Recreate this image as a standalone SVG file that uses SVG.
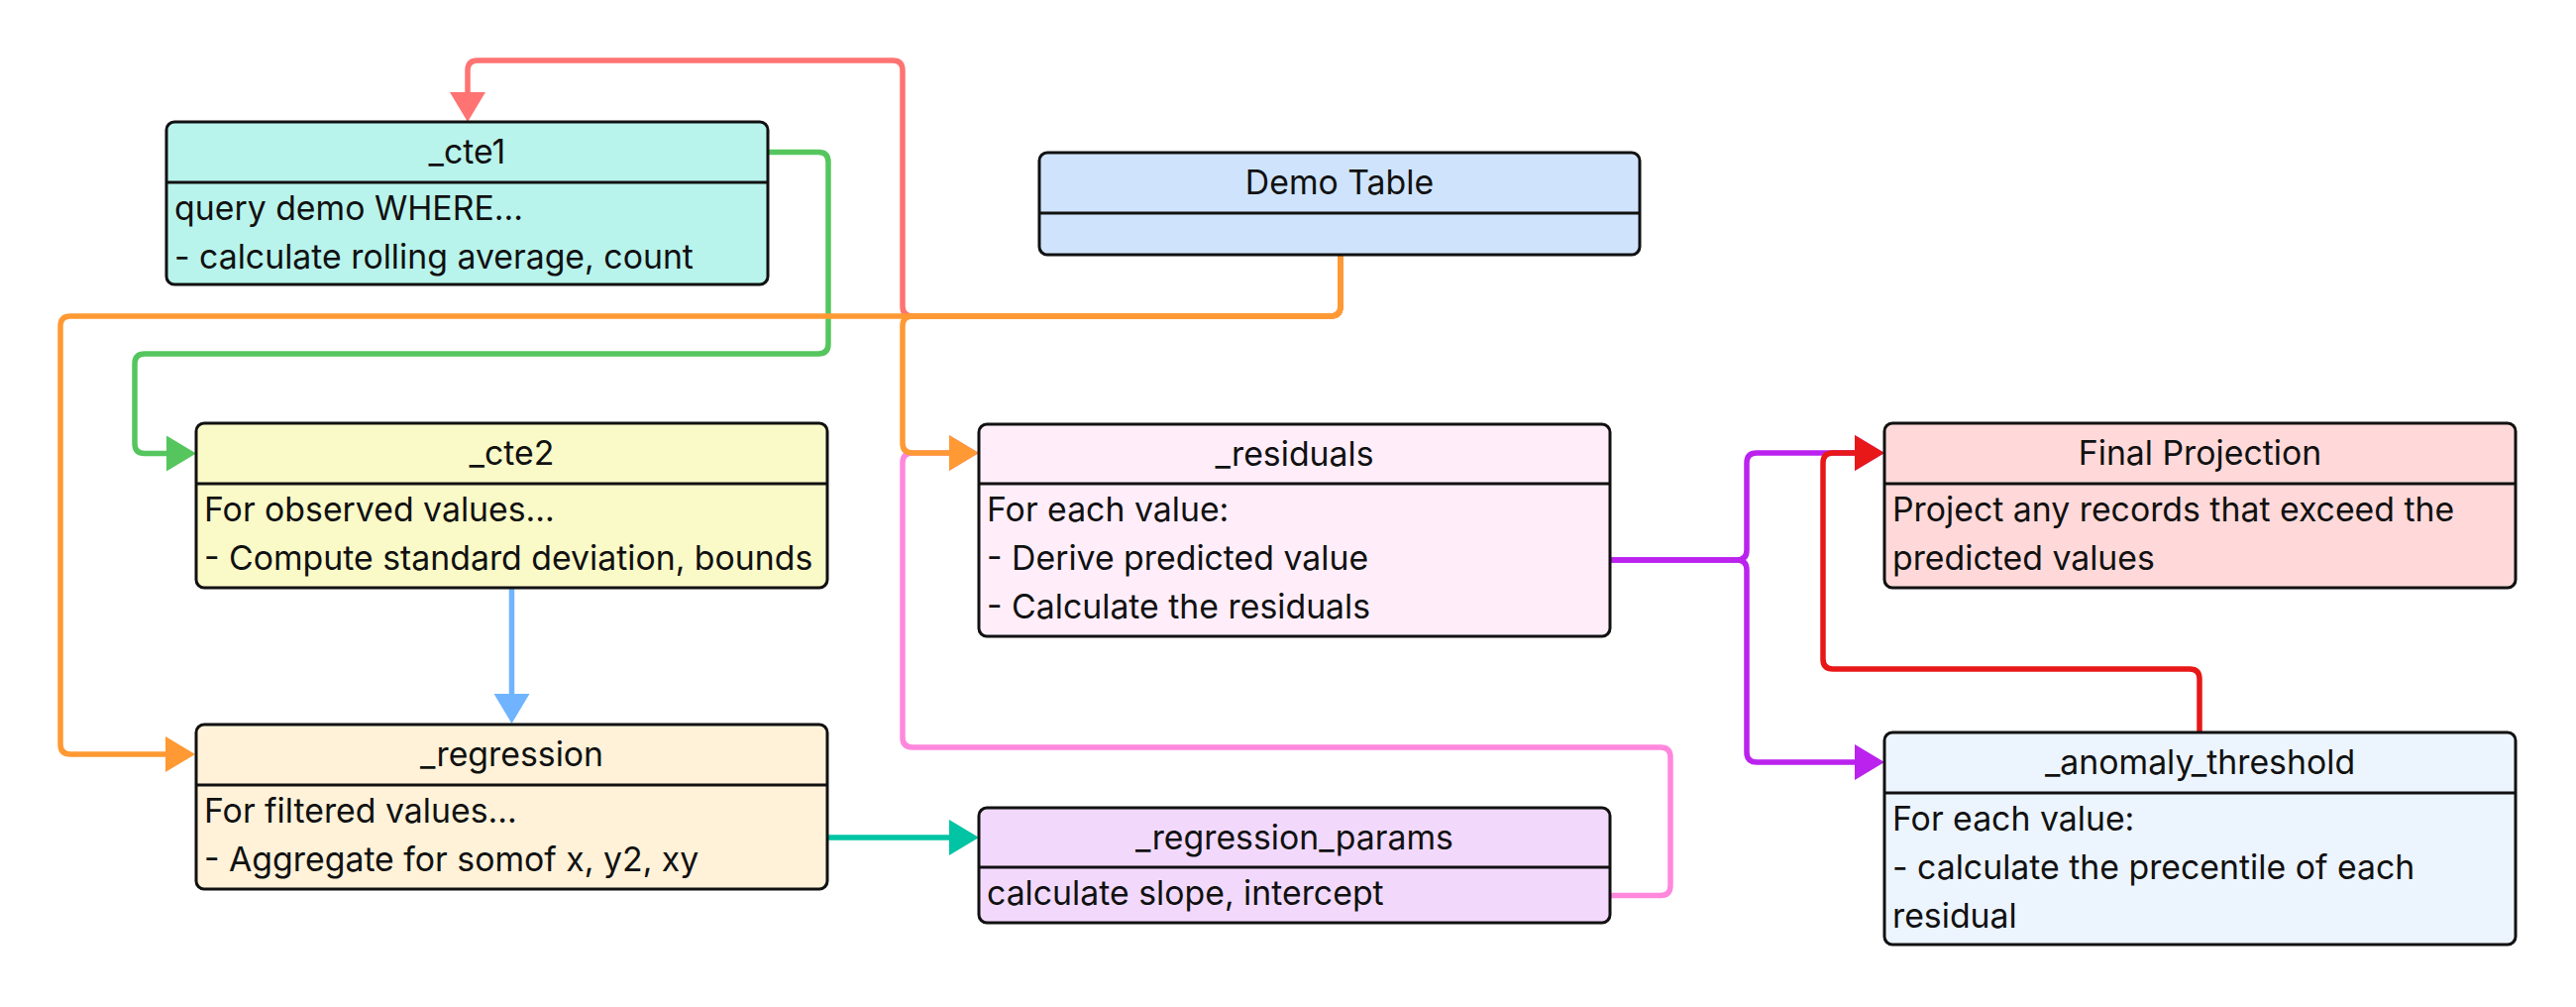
<svg xmlns="http://www.w3.org/2000/svg" width="2600" height="1016" viewBox="0 0 2600 1016">
<style>
  .box { stroke: #111; stroke-width: 3; }
  .div { stroke: #111; stroke-width: 3; }
  .t { font-family: Inter, "Liberation Sans", sans-serif; font-size: 33.8px; fill: #111; }
  .c { text-anchor: middle; }
  .e { fill: none; stroke-width: 5.5; stroke-linejoin: round; }
</style>
<defs>
  <marker id="m-salmon" markerWidth="30" markerHeight="36" refX="0" refY="18" orient="auto" markerUnits="userSpaceOnUse"><path d="M0,0 L30,18 L0,36 Z" fill="#ff7373"/></marker>
  <marker id="m-orange" markerWidth="30" markerHeight="36" refX="0" refY="18" orient="auto" markerUnits="userSpaceOnUse"><path d="M0,0 L30,18 L0,36 Z" fill="#ff9933"/></marker>
  <marker id="m-green" markerWidth="30" markerHeight="36" refX="0" refY="18" orient="auto" markerUnits="userSpaceOnUse"><path d="M0,0 L30,18 L0,36 Z" fill="#55c65e"/></marker>
  <marker id="m-blue" markerWidth="30" markerHeight="36" refX="0" refY="18" orient="auto" markerUnits="userSpaceOnUse"><path d="M0,0 L30,18 L0,36 Z" fill="#70b4ff"/></marker>
  <marker id="m-teal" markerWidth="30" markerHeight="36" refX="0" refY="18" orient="auto" markerUnits="userSpaceOnUse"><path d="M0,0 L30,18 L0,36 Z" fill="#00c4a4"/></marker>
  <marker id="m-pink" markerWidth="30" markerHeight="36" refX="0" refY="18" orient="auto" markerUnits="userSpaceOnUse"><path d="M0,0 L30,18 L0,36 Z" fill="#ff88dd"/></marker>
  <marker id="m-purple" markerWidth="30" markerHeight="36" refX="0" refY="18" orient="auto" markerUnits="userSpaceOnUse"><path d="M0,0 L30,18 L0,36 Z" fill="#bb22ee"/></marker>
  <marker id="m-red" markerWidth="30" markerHeight="36" refX="0" refY="18" orient="auto" markerUnits="userSpaceOnUse"><path d="M0,0 L30,18 L0,36 Z" fill="#e81818"/></marker>
</defs>
<rect width="2600" height="1016" fill="#ffffff"/>

<g id="connectors">
  <path class="e" stroke="#ff7373" marker-end="url(#m-salmon)" d="M1353,257 V309 Q1353,319 1343,319 H921 Q911,319 911,309 V71 Q911,61 901,61 H482 Q472,61 472,71 V93"/>
  <path class="e" stroke="#ff88dd" marker-end="url(#m-pink)" d="M1625,903.5 H1676 Q1686,903.5 1686,893.5 V764 Q1686,754 1676,754 H921 Q911,754 911,744 V467 Q911,457 921,457 H958"/>
  <path class="e" stroke="#55c65e" marker-end="url(#m-green)" d="M775,153.5 H826 Q836,153.5 836,163.5 V347 Q836,357 826,357 H146 Q136,357 136,367 V447.5 Q136,457.5 146,457.5 H168"/>
  <path class="e" stroke="#70b4ff" marker-end="url(#m-blue)" d="M516.5,593 V700"/>
  <path class="e" stroke="#00c4a4" marker-end="url(#m-teal)" d="M835,845 H958"/>
  <path class="e" stroke="#bb22ee" marker-end="url(#m-purple)" d="M1625,565 H1753 Q1763,565 1763,555 V467 Q1763,457 1773,457 H1872"/>
  <path class="e" stroke="#bb22ee" marker-end="url(#m-purple)" d="M1625,565 H1753 Q1763,565 1763,575 V759 Q1763,769 1773,769 H1872"/>
  <path class="e" stroke="#ff9933" marker-end="url(#m-orange)" d="M1353,257 V309 Q1353,319 1343,319 H71 Q61,319 61,329 V751 Q61,761 71,761 H167"/>
  <path class="e" stroke="#ff9933" marker-end="url(#m-orange)" d="M1353,257 V309 Q1353,319 1343,319 H921 Q911,319 911,329 V447 Q911,457 921,457 H958"/>
  <path class="e" stroke="#e81818" marker-end="url(#m-red)" d="M2220,739 V685 Q2220,675 2210,675 H1850 Q1840,675 1840,665 V467 Q1840,457 1850,457 H1872"/>
</g>

<g id="cte1">
  <rect class="box" x="168" y="123" width="607" height="164" rx="8" fill="#b8f4ec"/>
  <line class="div" x1="168" y1="184" x2="775" y2="184"/>
  <text class="t c" x="471.5" y="165">_cte1</text>
  <text class="t" x="176" y="222">query demo WHERE...</text>
  <text class="t" x="176" y="271">- calculate rolling average, count</text>
</g>

<g id="demo_table">
  <rect class="box" x="1049" y="154" width="606" height="103" rx="8" fill="#cfe4fc"/>
  <line class="div" x1="1049" y1="215" x2="1655" y2="215"/>
  <text class="t c" x="1352" y="196">Demo Table</text>
</g>

<g id="cte2">
  <rect class="box" x="198" y="427" width="637" height="166" rx="8" fill="#fafac8"/>
  <line class="div" x1="198" y1="488" x2="835" y2="488"/>
  <text class="t c" x="516.5" y="469">_cte2</text>
  <text class="t" x="206" y="526">For observed values...</text>
  <text class="t" x="206" y="575">- Compute standard deviation, bounds</text>
</g>

<g id="regression">
  <rect class="box" x="198" y="731" width="637" height="166" rx="8" fill="#fff2d9"/>
  <line class="div" x1="198" y1="792" x2="835" y2="792"/>
  <text class="t c" x="516.5" y="773">_regression</text>
  <text class="t" x="206" y="830">For filtered values...</text>
  <text class="t" x="206" y="879">- Aggregate for somof x, y2, xy</text>
</g>

<g id="residuals">
  <rect class="box" x="988" y="428" width="637" height="214" rx="8" fill="#ffeefa"/>
  <line class="div" x1="988" y1="488" x2="1625" y2="488"/>
  <text class="t c" x="1306.5" y="470">_residuals</text>
  <text class="t" x="996" y="526">For each value:</text>
  <text class="t" x="996" y="575">- Derive predicted value</text>
  <text class="t" x="996" y="624">- Calculate the residuals</text>
</g>

<g id="regression_params">
  <rect class="box" x="988" y="815" width="637" height="116" rx="8" fill="#f2d9fc"/>
  <line class="div" x1="988" y1="875" x2="1625" y2="875"/>
  <text class="t c" x="1306.5" y="857">_regression_params</text>
  <text class="t" x="996" y="913">calculate slope, intercept</text>
</g>

<g id="final_projection">
  <rect class="box" x="1902" y="427" width="637" height="166" rx="8" fill="#ffd9d9"/>
  <line class="div" x1="1902" y1="488" x2="2539" y2="488"/>
  <text class="t c" x="2220.5" y="469">Final Projection</text>
  <text class="t" x="1910" y="526">Project any records that exceed the</text>
  <text class="t" x="1910" y="575">predicted values</text>
</g>

<g id="anomaly_threshold">
  <rect class="box" x="1902" y="739" width="637" height="214" rx="8" fill="#ecf4fe"/>
  <line class="div" x1="1902" y1="800" x2="2539" y2="800"/>
  <text class="t c" x="2220.5" y="781">_anomaly_threshold</text>
  <text class="t" x="1910" y="838">For each value:</text>
  <text class="t" x="1910" y="887">- calculate the precentile of each</text>
  <text class="t" x="1910" y="936">residual</text>
</g>
</svg>
